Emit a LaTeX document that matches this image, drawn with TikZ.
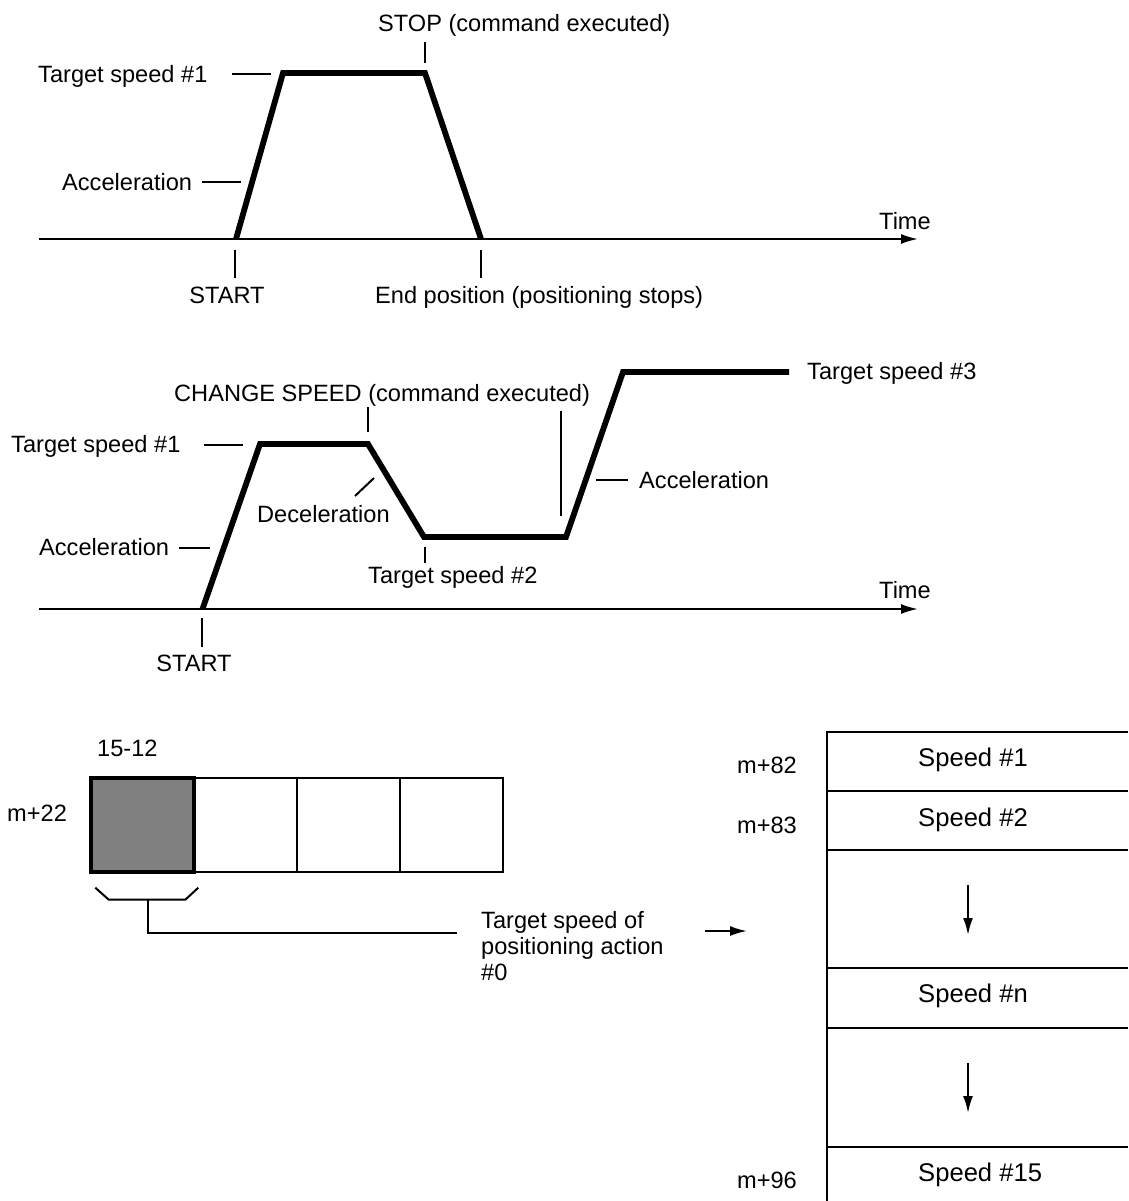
\documentclass[tikz,border=0pt]{standalone}
\usepackage{fontspec}
\setmainfont{Liberation Sans}
\usetikzlibrary{arrows.meta,positioning,calc}
\tikzset{
  >={Latex[length=17pt,width=10pt]},
  lbl/.style={font=\fontsize{23.6}{26}\selectfont, inner sep=0pt},
  cellfont/.style={font=\fontsize{25.6}{30}\selectfont, inner sep=0pt},
  timeaxis/.style={line width=2pt, ->},
  profile/.style={line width=5.8pt, line join=miter},
  leader/.style={line width=2pt},
  regcell/.style={draw, line width=2.2pt, minimum width=103pt, minimum height=94pt, inner sep=0pt},
  tblline/.style={line width=2.4pt},
}

\begin{document}
\begin{tikzpicture}[x=1pt, y=-1pt]
  \useasboundingbox (0,0) rectangle (1128,1201);

  % stop profile
  \coordinate (s0) at (236,239);
  \coordinate (s1) at (283,73);
  \coordinate (s2) at (425,73);
  \coordinate (s3) at (481,239);
  \coordinate (axAs) at (39,239);
  \coordinate (axAe) at (918,239);
  \node[lbl, anchor=base west] (stop) at (378,32) {STOP (command executed)};
  \node[lbl, anchor=base west] (tsA1) at (38,83) {Target speed \#1};
  \node[lbl, anchor=base west] (accA) at (62,190) {Acceleration};
  \node[lbl, anchor=base west] (timeA) at (879,229) {Time};
  \node[lbl, anchor=base] (startA) at (227,303) {START};
  \node[lbl, anchor=base west] (endA) at (375,303) {End position (positioning stops)};

  \draw[timeaxis] (axAs) -- (axAe);
  \draw[profile] (s0) -- (s1) -- (s2) -- (s3);
  \draw[leader] (425,42) -- (425,63);
  \draw[leader] (232,74) -- (271,74);
  \draw[leader] (202,182) -- (241,182);
  \draw[leader] (235,250) -- (235,278);
  \draw[leader] (481,250) -- (481,278);

  % change speed profile
  \coordinate (c0) at (202.5,609);
  \coordinate (c1) at (260,444);
  \coordinate (c2) at (368,444);
  \coordinate (c3) at (424,537);
  \coordinate (c4) at (566,537);
  \coordinate (c5) at (623,372);
  \coordinate (c6) at (789,372);
  \coordinate (axBs) at (39,609);
  \coordinate (axBe) at (918,609);
  \node[lbl, anchor=base west] (chg) at (174,401) {CHANGE SPEED (command executed)};
  \node[lbl, anchor=base west] (tsB1) at (11,452) {Target speed \#1};
  \node[lbl, anchor=base west] (dec) at (257,522) {Deceleration};
  \node[lbl, anchor=base west] (accB) at (39,555) {Acceleration};
  \node[lbl, anchor=base west] (tsB2) at (368,583) {Target speed \#2};
  \node[lbl, anchor=base west] (accC) at (639,488) {Acceleration};
  \node[lbl, anchor=base west] (tsB3) at (807,379) {Target speed \#3};
  \node[lbl, anchor=base west] (timeB) at (879,598) {Time};
  \node[lbl, anchor=base] (startB) at (194,671) {START};

  \draw[timeaxis] (axBs) -- (axBe);
  \draw[profile] (c0) -- (c1) -- (c2) -- (c3) -- (c4) -- (c5) -- (c6);
  \draw[leader] (368,407) -- (368,432);
  \draw[leader] (204,445) -- (243,445);
  \draw[leader] (355,496) -- (374,478);
  \draw[leader] (179,548) -- (210,548);
  \draw[leader] (425,547) -- (425,563);
  \draw[leader] (560.5,411) -- (560.5,516);
  \draw[leader] (596,480) -- (628,480);
  \draw[leader] (202,618) -- (202,647);

  % m+22 word
  \node[lbl, anchor=base west] (bits) at (97,756) {15-12};
  \node[lbl, anchor=base west] (word) at (7,821) {m+22};
  \foreach \i in {2,3,4}
    \node[regcell] (r\i) at ({142.5+103*(\i-1)},825) {};
  \node[regcell, fill=gray, line width=3.4pt] (r1) at (142.5,825) {};

  \coordinate (bk) at ($(r1.south)+(5.5,26)$);
  \coordinate (lead) at (457,933);
  \node[lbl, anchor=north west, align=left] (tgt) at (481,911) {Target speed of\\positioning action\\\#0};
  \draw[leader] ($(r1.south west)+(6,14)$) -- ($(r1.south west)+(19.5,26)$)
    -- ($(r1.south west)+(96,26)$) -- ($(r1.south west)+(109,14)$);
  \draw[leader] (bk) |- (lead);
  \coordinate (pS) at (705,931);
  \coordinate (pE) at (747,931);
  \draw[leader, ->] (pS) -- (pE);

  % speed table
  \draw[tblline] (1128,732) -- (827,732) -- (827,1201);
  \foreach \y in {791,850,968,1028,1147}
    \draw[tblline] (827,\y) -- (1128,\y);
  \node[cellfont, anchor=base west] (sp1) at (918,766) {Speed \#1};
  \node[cellfont, anchor=base west] (sp2) at (918,826) {Speed \#2};
  \node[cellfont, anchor=base west] (spn) at (918,1002) {Speed \#n};
  \node[cellfont, anchor=base west] (sp15) at (918,1181) {Speed \#15};
  \node[lbl, anchor=base east] (a82) at (797,773) {m+82};
  \node[lbl, anchor=base east] (a83) at (797,833) {m+83};
  \node[lbl, anchor=base east] (a96) at (797,1188) {m+96};
  \coordinate (d1) at (968,885);
  \coordinate (d2) at (968,935);
  \coordinate (d3) at (968,1063);
  \coordinate (d4) at (968,1113);
  \draw[leader, ->] (d1) -- (d2);
  \draw[leader, ->] (d3) -- (d4);
\end{tikzpicture}
\end{document}
